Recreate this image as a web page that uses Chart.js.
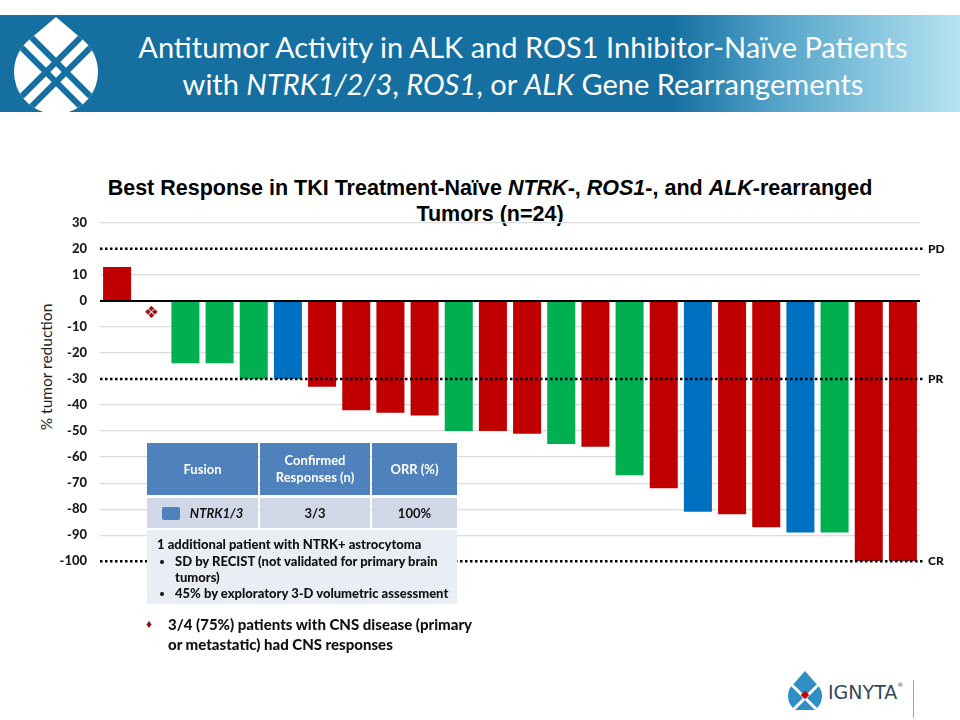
<!DOCTYPE html>
<html>
<head>
<meta charset="utf-8">
<script src="https://cdn.jsdelivr.net/npm/chart.js@4"></script>
<style>
  body { margin: 0; width: 960px; height: 720px; background: #fff; position: relative; overflow: hidden; font-family: Lato, "Open Sans", sans-serif; }
  #banner { position: absolute; left: 0; top: 15px; width: 960px; height: 97px;
    background: linear-gradient(to right, #156fa1 0%, #156fa1 70%, #5aa8cc 82%, #b6e3f1 100%); }
  #logo { position: absolute; left: 0; top: 15px; }
  #head { position: absolute; left: 100px; width: 846px; top: 28px; color: #fff; font-size: 29px; line-height: 37px; text-align: center; }
  #ctitle { position: absolute; left: 60px; width: 860px; top: 175px; text-align: center;
    font-family: "Liberation Sans Narrow", "Liberation Sans", Arial, sans-serif; font-weight: bold; font-size: 21.5px; line-height: 26px; color: #000; }
  #wrap { position: absolute; left: 30px; top: 202px; width: 930px; height: 380px; }
  #ytitle { position: absolute; left: 46px; top: 367px; transform: translate(-50%, -50%) rotate(-90deg); font-size: 15.5px; color: #222; white-space: nowrap; }
  #tbl { position: absolute; left: 147px; top: 443px; width: 310px; font-weight: bold; font-size: 13px; }
  .row { display: flex; }
  .c { box-sizing: border-box; display: flex; align-items: center; justify-content: center; text-align: center; }
  .hd .c { background: #4f81bd; color: #fff; height: 52px; line-height: 17px; }
  .dr .c { background: #d0d8e8; color: #111; height: 30px; margin-top: 3px; }
  .c1 { width: 111px; margin-right: 2px; }
  .c2 { width: 110px; margin-right: 2px; }
  .c3 { width: 85px; }
  #note { background: #e9edf4; margin-top: 2px; height: 74px; box-sizing: border-box; padding: 6px 8px 0 10px; color: #111; font-size: 13px; line-height: 16px; font-weight: 900; }
  #note ul { margin: 1px 0 0 0; padding-left: 18px; }
  #bottom { position: absolute; left: 146px; top: 614px; width: 340px; font-weight: 900; font-size: 15px; line-height: 20px; color: #111; }
  #bottom .d { color: #8e1010; font-size: 12px; position: absolute; left: 0; top: 0; }
  #bottom .t { margin-left: 22px; }
  #ign { position: absolute; left: 785px; top: 670px; }
  #ignTxt { position: absolute; left: 828px; top: 681px; font-size: 19px; color: #33475b; font-family: "DejaVu Sans", sans-serif; }
  #ignTxt sup { font-size: 6px; vertical-align: top; }
  #vline { position: absolute; left: 913px; top: 680px; width: 1px; height: 38px; background: #9aa; }
</style>
</head>
<body>
<div id="banner"></div>
<svg id="logo" width="110" height="97" viewBox="0 0 110 97">
  <defs>
    <clipPath id="drop">
      <path d="M56 2 L83.1 24.9 A42 42 0 1 1 28.9 24.9 Z"/>
    </clipPath>
  </defs>
  <g clip-path="url(#drop)">
    <rect x="0" y="0" width="110" height="97" fill="#fff"/>
    <g stroke="#156fa1" stroke-width="6">
      <line x1="-40" y1="-49" x2="150" y2="141"/>
      <line x1="-40" y1="-29" x2="150" y2="161"/>
      <line x1="-40" y1="143" x2="143" y2="-40"/>
      <line x1="-40" y1="163" x2="163" y2="-40"/>
    </g>
  </g>
</svg>
<div id="head">Antitumor Activity in ALK and ROS1 Inhibitor-Naïve Patients<br>with <i>NTRK1/2/3</i>, <i>ROS1</i>, or <i>ALK</i> Gene Rearrangements</div>
<div id="ctitle">Best Response in TKI Treatment-Naïve <i>NTRK</i>-, <i>ROS1</i>-, and <i>ALK</i>-rearranged<br>Tumors (n=24)</div>
<div id="ytitle">% tumor reduction</div>
<div id="wrap"><canvas id="waterfall"></canvas></div>
<div id="tbl">
  <div class="row hd"><div class="c c1">Fusion</div><div class="c c2">Confirmed<br>Responses (n)</div><div class="c c3">ORR (%)</div></div>
  <div class="row dr"><div class="c c1"><span style="display:inline-block;width:18px;height:13px;background:#4f81bd;border-radius:2px;margin-right:10px;"></span><i>NTRK1/3</i></div><div class="c c2">3/3</div><div class="c c3">100%</div></div>
  <div id="note">1 additional patient with NTRK+ astrocytoma
    <ul><li>SD by RECIST (not validated for primary brain tumors)</li><li>45% by exploratory 3-D volumetric assessment</li></ul>
  </div>
</div>
<div id="bottom"><span class="d">&#9830;</span><div class="t">3/4 (75%) patients with CNS disease (primary or metastatic) had CNS responses</div></div>
<svg id="ign" width="40" height="40" viewBox="0 0 40 40">
  <defs><clipPath id="d2"><path d="M20 1 L35 18 A17 17 0 1 1 5 18 Z"/></clipPath></defs>
  <g clip-path="url(#d2)">
    <rect width="40" height="40" fill="#2f8fc4"/>
    <g stroke="#fff" stroke-width="3"><line x1="0" y1="8" x2="34" y2="42"/><line x1="40" y1="8" x2="6" y2="42"/></g>
  </g>
  <rect x="17" y="22" width="6" height="6" fill="#c00" transform="rotate(45 20 25)"/>
</svg>
<div id="ignTxt">IGNYTA<sup>®</sup></div>
<div id="vline"></div>
<script>
// data
const patients = ["1","2","3","4","5","6","7","8","9","10","11","12","13","14","15","16","17","18","19","20","21","22","23","24"];
const bestResponse = [13, null, -24, -24, -30, -30, -33, -42, -43, -44, -50, -50, -51, -55, -56, -67, -72, -81, -82, -87, -89, -89, -100, -100];
const fusionGroup = ["ROS1","ROS1","ALK","ALK","ALK","NTRK","ROS1","ROS1","ROS1","ROS1","ALK","ROS1","ROS1","ALK","ROS1","ALK","ROS1","NTRK","ROS1","ROS1","NTRK","ALK","ROS1","ROS1"];
const markedPatients = ["2"]; // not evaluable marker
const yTicks = [30, 20, 10, 0, -10, -20, -30, -40, -50, -60, -70, -80, -90, -100];
const thresholds = [20, -30, -100];
const thresholdLabels = ["PD", "PR", "CR"];

const groupColor = { ROS1: "#c00000", ALK: "#00b050", NTRK: "#0070c0" };

//plugin: reference lines + marker
const refLines = {
  id: "refLines",
  afterDatasetsDraw(chart) {
    const ctx = chart.ctx;
    const y = chart.scales.y, x = chart.scales.x;
    const area = chart.chartArea;
    ctx.save();
    // zero line
    ctx.strokeStyle = "#000";
    ctx.lineWidth = 2;
    ctx.beginPath();
    ctx.moveTo(area.left, y.getPixelForValue(0));
    ctx.lineTo(area.right, y.getPixelForValue(0));
    ctx.stroke();
    // dotted lines
    ctx.lineWidth = 2.5;
    ctx.setLineDash([2.5, 2.5]);
    thresholds.forEach((v) => {
      const py = y.getPixelForValue(v);
      ctx.beginPath();
      ctx.moveTo(area.left, py);
      ctx.lineTo(area.right + 5, py);
      ctx.stroke();
    });
    ctx.setLineDash([]);
    ctx.fillStyle = "#111";
    ctx.font = "900 12px Lato";
    ctx.textBaseline = "middle";
    thresholds.forEach((v, i) => {
      ctx.fillText(thresholdLabels[i], area.right + 8, y.getPixelForValue(v));
    });
    // marker
    ctx.fillStyle = "#a31515";
    ctx.font = "17px 'DejaVu Sans'";
    ctx.textAlign = "center";
    markedPatients.forEach((p) => {
      const idx = patients.indexOf(p);
      ctx.fillText("\u2756", x.getPixelForValue(idx), y.getPixelForValue(-5));
    });
    ctx.restore();
  },
};

const config = {
  type: "bar",
  data: {
    labels: patients,
    datasets: [
      {
        label: "Best response",
        data: bestResponse,
        backgroundColor: fusionGroup.map((g) => groupColor[g]),
        barPercentage: 0.82,
        categoryPercentage: 1,
      },
    ],
  },
  options: {
    responsive: true,
    maintainAspectRatio: false,
    animation: false,
    layout: { padding: { top: 10, bottom: 12, right: 40 } },
    plugins: { legend: { display: false }, tooltip: { enabled: false } },
    scales: {
      x: { display: false },
      y: {
        min: -100,
        max: 30,
        afterFit: (s) => { s.width = 70; },
        afterBuildTicks: (s) => { s.ticks = yTicks.map((v) => ({ value: v })); },
        ticks: { color: "#1a1a1a", font: { family: "Lato", weight: "900", size: 13 }, padding: 13 },
        border: { display: false },
        grid: {
          drawTicks: false,
          color: (c) => (c.tick && (c.tick.value === 0 || thresholds.includes(c.tick.value)) ? "rgba(0,0,0,0)" : "#dcdcdc"),
          lineWidth: 1.2,
        },
      },
    },
  },
  plugins: [refLines],
};

new Chart(document.getElementById("waterfall"), config);
</script>
</body>
</html>
